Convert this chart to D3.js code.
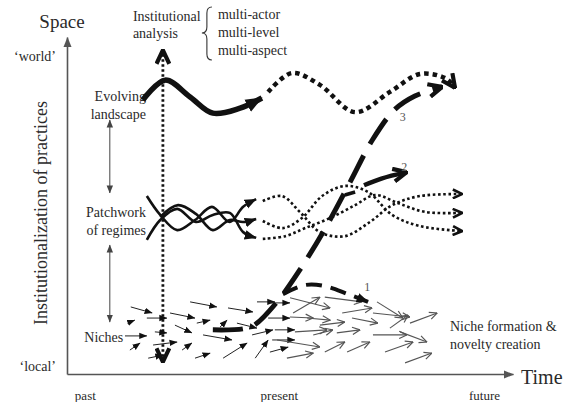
<!DOCTYPE html>
<html>
<head>
<meta charset="utf-8">
<script src="https://cdn.jsdelivr.net/npm/d3@7"></script>
</head>
<body style="margin:0; background:#fff">
<div class="chart"></div>
<script>
var svgWidth = 570;
var svgHeight = 402;

var margin = {
  top: 37,
  right: 57,
  bottom: 28,
  left: 67
};

var width = svgWidth - margin.left - margin.right;
var height = svgHeight - margin.top - margin.bottom;

// axis ticks (time 0-100, space 0-100)
var timeTicks = [4, 47.5, 93.5];
var timeLabels = ["past", "present", "future"];
var spaceTicks = [94.4, 2.4];
var spaceLabels = ["\u2018world\u2019", "\u2018local\u2019"];

// levels of the multi-level perspective
var levelLabels = [["Evolving", "landscape"], ["Patchwork", "of regimes"], ["Niches"]];
var levelSpace = [79.8, 45.4, 10.7];
var levelTime = [17.7, 17.7, 12.6];
// double arrows between the levels [from, to]
var levelLinks = [[75.4, 53.7], [38.3, 15.4]];
var levelLinkTime = 9.6;

// institutional analysis cut
var institutionTime = 21.5;
var institutionSpan = [3.6, 96.1];
var institutionAspects = ["multi-actor", "multi-level", "multi-aspect"];

// landscape trajectory [time, space]
var landscapePast = [[17.0, 81.3], [22.0, 87.2], [27.6, 82.2], [32.7, 77.4], [38.8, 78.9], [43.7, 81.9]];
var landscapeFuture = [[45.1, 83.7], [50.4, 89.3], [56.7, 85.8], [64.6, 77.7], [72.4, 83.7], [79.1, 89.0], [84.8, 87.8], [87.0, 84.9]];

// regimes, braided (solid = past, dotted = future)
var regimePast = [
  [[17.9, 52.8], [20.9, 47.2], [24.7, 42.7], [28.7, 45.7], [32.5, 49.6], [36.5, 45.1], [39.5, 49.6], [42.4, 51.9]],
  [[20.9, 46.6], [24.9, 50.1], [28.9, 47.5], [32.7, 42.7], [36.5, 45.7], [39.5, 45.1], [42.4, 46.0]],
  [[17.9, 39.8], [20.9, 45.7], [24.7, 49.0], [28.9, 45.1], [32.7, 47.2], [36.5, 47.8], [39.5, 42.1], [42.4, 40.4]]
];
var regimeFuture = [
  [[43.9, 51.3], [48.2, 52.8], [52.2, 48.1], [56.7, 42.1], [62.3, 40.9], [67.9, 45.1], [72.9, 50.1], [79.1, 52.8], [88.6, 53.4]],
  [[43.9, 45.4], [48.4, 43.3], [52.7, 46.3], [57.2, 52.8], [62.3, 55.8], [67.5, 54.0], [72.9, 47.2], [79.1, 43.9], [88.6, 42.4]],
  [[43.9, 40.1], [48.9, 40.9], [53.4, 43.3], [59.0, 46.3], [64.6, 50.1], [69.1, 53.1], [74.2, 50.7], [80.3, 48.1], [88.6, 47.8]]
];

// transition pathways 1, 2, 3
var pathwayNames = ["1", "2", "3"];
var pathway1 = [[48.4, 23.7], [53.4, 26.4], [57.8, 26.1], [63.0, 23.7], [67.5, 21.4]];
var pathway2 = [[66.6, 56.0], [70.5, 58.0], [76.2, 59.9]];
var pathway2Stub = [[62.3, 53.1], [64.6, 54.0]];
var pathway3 = [[32.7, 13.1], [39.5, 13.4], [42.0, 14.5], [47.1, 21.4], [52.2, 30.9], [57.8, 43.0], [63.5, 57.0], [68.5, 69.5], [73.5, 78.5], [78.0, 82.5], [84.1, 85.2]];
var pathwayLabelPos = [[67.3, 25.8], [75.6, 61.4], [75.3, 76.3]];

// niche experiments [t0, s0, t1, s1]
var nicheNow = [
  [14.3, 19.9, 19.1, 18.1], [13.5, 15.1, 15.2, 16.0], [13.0, 11.3, 17.9, 11.3], [14.1, 7.1, 16.4, 9.2],
  [17.9, 16.6, 22.4, 16.6], [19.7, 12.5, 22.4, 12.2], [19.3, 8.6, 24.7, 9.5], [18.2, 4.7, 21.5, 5.6],
  [23.1, 18.1, 28.7, 16.6], [24.2, 14.5, 28.0, 12.2], [25.8, 7.1, 28.0, 9.2], [27.6, 21.4, 33.6, 19.9],
  [29.1, 15.1, 32.1, 16.0], [28.7, 4.7, 32.1, 6.2], [34.3, 13.9, 35.9, 16.0], [36.1, 19.6, 41.7, 18.4],
  [30.5, 11.6, 37.0, 10.1], [35.0, 4.7, 40.4, 9.2], [38.1, 15.1, 42.6, 13.6], [41.5, 11.6, 46.2, 13.1],
  [42.2, 4.7, 45.1, 10.1], [42.6, 21.4, 46.6, 21.4], [45.5, 21.1, 50.0, 21.1], [45.1, 16.6, 50.0, 16.6],
  [46.6, 13.1, 51.1, 13.1], [46.0, 10.1, 51.1, 10.1], [45.5, 6.5, 49.6, 8.0]
];
var nicheNew = [
  [50.0, 22.6, 59.0, 19.6], [50.7, 18.1, 56.7, 22.8], [57.8, 22.8, 66.1, 21.4], [53.8, 16.6, 59.0, 16.0],
  [50.0, 16.9, 55.2, 16.6], [61.7, 18.1, 68.4, 19.6], [56.7, 14.5, 62.3, 15.4], [63.9, 16.6, 69.7, 15.1],
  [69.5, 21.4, 75.3, 16.6], [68.6, 18.1, 76.9, 16.9], [72.4, 13.6, 76.5, 17.5], [76.9, 15.1, 83.0, 18.1],
  [51.1, 12.5, 58.3, 13.1], [60.5, 12.2, 65.7, 13.1], [55.2, 11.6, 59.6, 13.1], [68.6, 11.6, 76.2, 11.6],
  [74.7, 12.5, 80.7, 9.5], [47.1, 10.1, 56.7, 8.0], [57.8, 6.5, 62.3, 9.5], [62.8, 6.5, 67.9, 9.5],
  [71.3, 6.5, 77.6, 9.5], [49.3, 4.7, 55.2, 6.2], [75.8, 3.3, 81.8, 6.2]
];
var nicheNote = ["Niche formation &", "novelty creation"];

var svg = d3.select(".chart")
  .append("svg")
  .attr("width", svgWidth)
  .attr("height", svgHeight);

// arrow heads
var defs = svg.append("defs");
function addMarker(id, size, shape, color, sw) {
  var m = defs.append("marker")
    .attr("id", id)
    .attr("viewBox", "0 0 10 10")
    .attr("refX", 9.5)
    .attr("refY", 5)
    .attr("markerWidth", size)
    .attr("markerHeight", size)
    .attr("markerUnits", "userSpaceOnUse")
    .attr("orient", "auto-start-reverse");
  if (shape === "tri") {
    m.append("path").attr("d", "M0,1L10,5L0,9Z").attr("fill", color);
  } else {
    m.append("path").attr("d", "M1,1L9.5,5L1,9")
      .attr("fill", "none").attr("stroke", color)
      .attr("stroke-width", sw).attr("stroke-linejoin", "miter");
  }
}
addMarker("axisHead", 10, "tri", "#555");
addMarker("smallTri", 8, "tri", "#111");
addMarker("levelTri", 8, "tri", "#444");
addMarker("openHead", 9, "open", "#555", 1.3);
addMarker("bigTri", 17, "tri", "#111");
addMarker("midTri", 12, "tri", "#111");
addMarker("chev", 11, "open", "#111", 2.4);
addMarker("bigChev", 16, "open", "#111", 2.6);

var chartGroup = svg.append("g")
  .attr("transform", `translate(${margin.left}, ${margin.top})`);

var xScale = d3.scaleLinear().domain([0, 100]).range([0, width]);
var yScale = d3.scaleLinear().domain([0, 100]).range([height, 0]);

var curve = d3.line()
  .x(d => xScale(d[0]))
  .y(d => yScale(d[1]))
  .curve(d3.curveCatmullRom.alpha(0.5));

// axes
var bottomAxis = d3.axisBottom(xScale)
  .tickValues(timeTicks)
  .tickFormat((d, i) => timeLabels[i])
  .tickSize(0)
  .tickSizeOuter(0)
  .tickPadding(17);
var leftAxis = d3.axisLeft(yScale)
  .tickValues(spaceTicks)
  .tickFormat((d, i) => spaceLabels[i])
  .tickSize(0)
  .tickSizeOuter(0)
  .tickPadding(11);

var xAxis = chartGroup.append("g")
  .attr("transform", `translate(0, ${height})`)
  .call(bottomAxis);
var yAxis = chartGroup.append("g").call(leftAxis);

[xAxis, yAxis].forEach(function(ax) {
  ax.attr("font-family", null);
  ax.select(".domain")
    .attr("stroke", "#555")
    .attr("stroke-width", 1.6)
    .attr("marker-end", "url(#axisHead)");
  ax.selectAll("text")
    .attr("font-size", 14);
});
xAxis.selectAll("text").attr("font-size", 13);

svg.append("text")
  .attr("x", 521).attr("y", 384)
  .attr("font-size", 20)
  .text("Time");
svg.append("text")
  .attr("x", 62).attr("y", 28)
  .attr("text-anchor", "middle")
  .attr("font-size", 19)
  .text("Space");
svg.append("text")
  .attr("transform", "translate(47, 213) rotate(-90)")
  .attr("text-anchor", "middle")
  .attr("font-size", 18)
  .text("Institutionalization of practices");

// niche experiments
chartGroup.selectAll(".niche-now")
  .data(nicheNow)
  .enter()
  .append("line")
  .attr("x1", d => xScale(d[0]))
  .attr("y1", d => yScale(d[1]))
  .attr("x2", d => xScale(d[2]))
  .attr("y2", d => yScale(d[3]))
  .attr("stroke", "#222")
  .attr("stroke-width", 1)
  .attr("marker-end", "url(#smallTri)");

chartGroup.selectAll(".niche-new")
  .data(nicheNew)
  .enter()
  .append("line")
  .attr("x1", d => xScale(d[0]))
  .attr("y1", d => yScale(d[1]))
  .attr("x2", d => xScale(d[2]))
  .attr("y2", d => yScale(d[3]))
  .attr("stroke", "#555")
  .attr("stroke-width", 1.1)
  .attr("marker-end", "url(#openHead)");

// level labels
levelLabels.forEach(function(lines, i) {
  var t = chartGroup.append("text")
    .attr("text-anchor", "end")
    .attr("font-size", 14);
  lines.forEach(function(l, j) {
    t.append("tspan")
      .attr("x", xScale(levelTime[i]))
      .attr("y", yScale(levelSpace[i]) + 4.5 + (j - (lines.length - 1) / 2) * 18)
      .text(l);
  });
});

chartGroup.selectAll(".level-link")
  .data(levelLinks)
  .enter()
  .append("line")
  .attr("x1", xScale(levelLinkTime))
  .attr("x2", xScale(levelLinkTime))
  .attr("y1", d => yScale(d[0]))
  .attr("y2", d => yScale(d[1]))
  .attr("stroke", "#444")
  .attr("stroke-width", 1)
  .attr("marker-start", "url(#levelTri)")
  .attr("marker-end", "url(#levelTri)");

// regimes
chartGroup.selectAll(".regime-future")
  .data(regimeFuture)
  .enter()
  .append("path")
  .attr("d", curve)
  .attr("fill", "none")
  .attr("stroke", "#111")
  .attr("stroke-width", 2.6)
  .attr("stroke-dasharray", "2.6 2.6")
  .attr("marker-end", "url(#chev)");

chartGroup.selectAll(".regime-past")
  .data(regimePast)
  .enter()
  .append("path")
  .attr("d", curve)
  .attr("fill", "none")
  .attr("stroke", "#111")
  .attr("stroke-width", 2.6)
  .attr("marker-end", "url(#midTri)");

// institutional analysis cut
chartGroup.append("line")
  .attr("x1", xScale(institutionTime))
  .attr("x2", xScale(institutionTime))
  .attr("y1", yScale(institutionSpan[0]))
  .attr("y2", yScale(institutionSpan[1]))
  .attr("stroke", "#111")
  .attr("stroke-width", 2.8)
  .attr("stroke-dasharray", "2.5 2.5")
  .attr("marker-start", "url(#bigChev)")
  .attr("marker-end", "url(#bigChev)");

var ix = margin.left + xScale(institutionTime);
var inst = svg.append("text").attr("font-size", 14);
inst.append("tspan").attr("x", ix - 30).attr("y", 21).text("Institutional");
inst.append("tspan").attr("x", ix - 30).attr("y", 38).text("analysis");

svg.append("path")
  .attr("d", `M${ix + 49},7Q${ix + 44},7 ${ix + 44},13L${ix + 44},27Q${ix + 44},33 ${ix + 39},33` +
    `Q${ix + 44},33 ${ix + 44},39L${ix + 44},54Q${ix + 44},60 ${ix + 49},60`)
  .attr("fill", "none")
  .attr("stroke", "#333")
  .attr("stroke-width", 1.1);

svg.selectAll(".aspect")
  .data(institutionAspects)
  .enter()
  .append("text")
  .attr("x", ix + 55)
  .attr("y", (d, i) => 19 + i * 18)
  .attr("font-size", 14)
  .text(d => d);

// landscape
chartGroup.append("path")
  .attr("d", curve(landscapeFuture))
  .attr("fill", "none")
  .attr("stroke", "#111")
  .attr("stroke-width", 4.5)
  .attr("stroke-dasharray", "4.5 4")
  .attr("marker-end", "url(#bigChev)");

chartGroup.append("path")
  .attr("d", curve(landscapePast))
  .attr("fill", "none")
  .attr("stroke", "#111")
  .attr("stroke-width", 5.5)
  .attr("marker-end", "url(#bigTri)");

// transition pathways
var pathwayGroup = chartGroup.append("g");
pathwayGroup.append("path")
  .attr("d", curve(pathway1))
  .attr("fill", "none")
  .attr("stroke", "#111")
  .attr("stroke-width", 4)
  .attr("stroke-dasharray", "16 9")
  .attr("marker-end", "url(#midTri)");
pathwayGroup.append("path")
  .attr("d", curve(pathway2Stub))
  .attr("fill", "none")
  .attr("stroke", "#111")
  .attr("stroke-width", 3.5);
pathwayGroup.append("path")
  .attr("d", curve(pathway2))
  .attr("fill", "none")
  .attr("stroke", "#111")
  .attr("stroke-width", 4.5)
  .attr("marker-end", "url(#bigChev)");
pathwayGroup.append("path")
  .attr("d", curve(pathway3))
  .attr("fill", "none")
  .attr("stroke", "#111")
  .attr("stroke-width", 5)
  .attr("stroke-dasharray", "30 13")
  .attr("marker-end", "url(#bigChev)");

chartGroup.selectAll(".pathway-label")
  .data(pathwayNames)
  .enter()
  .append("text")
  .attr("class", "pathway-label")
  .attr("x", (d, i) => xScale(pathwayLabelPos[i][0]))
  .attr("y", (d, i) => yScale(pathwayLabelPos[i][1]) + 4)
  .attr("text-anchor", "middle")
  .attr("font-size", 12)
  .text(d => d);

// niche note
var note = svg.append("text").attr("font-size", 14);
nicheNote.forEach(function(l, i) {
  note.append("tspan").attr("x", 450).attr("y", 331 + i * 18).text(l);
});

// serif type everywhere, like the printed figure
svg.selectAll("text")
  .style("font-family", "'Liberation Serif', serif")
  .style("fill", "#2a2a2a");
svg.selectAll(".pathway-label").style("fill", "#555");
</script>
</body>
</html>
